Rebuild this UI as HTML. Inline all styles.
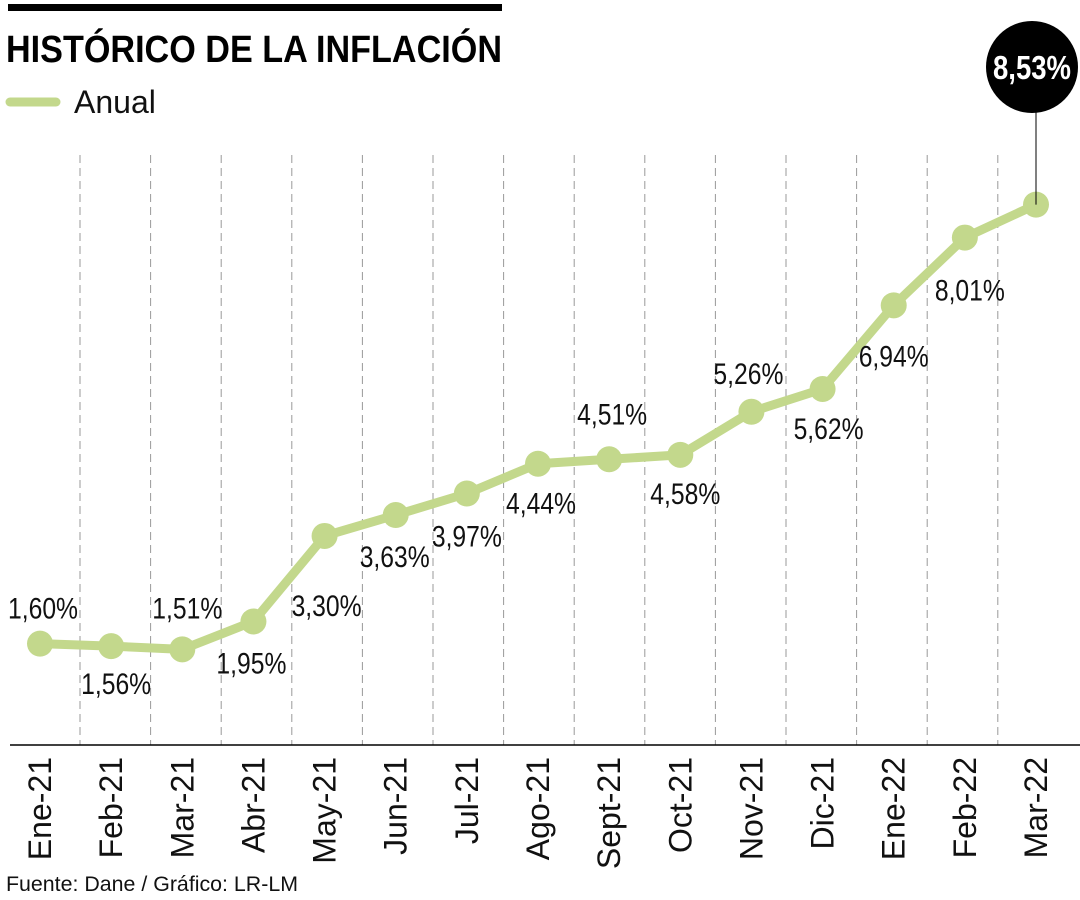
<!DOCTYPE html>
<html><head><meta charset="utf-8"><style>
html,body{margin:0;padding:0;background:#fff;}
svg{display:block;}
text{font-family:"Liberation Sans Narrow","Liberation Sans",sans-serif;}
</style></head><body>
<svg id="chart" width="1080" height="900" viewBox="0 0 1080 900" xmlns="http://www.w3.org/2000/svg">
<rect x="8" y="4" width="494" height="7" fill="#000"/>
<text x="6" y="62" font-size="38" font-weight="bold" textLength="496" lengthAdjust="spacingAndGlyphs">HISTÓRICO DE LA INFLACIÓN</text>
<line x1="10" y1="102" x2="56" y2="102" stroke="#c3d88c" stroke-width="9" stroke-linecap="round"/>
<text x="74" y="113" font-size="32" font-family="Liberation Sans" font-weight="300" fill="#111">Anual</text>
<g id="grid"></g>
<line x1="10" y1="745" x2="1080" y2="745" stroke="#000" stroke-width="1.5"/>
<g id="series"></g>
<g id="labels"></g>
<g id="xticks"></g>
<line id="callout" x1="1036" y1="112" x2="1036" y2="200" stroke="#000" stroke-width="1"/>
<circle cx="1032" cy="67" r="46" fill="#000"/>
<text id="calloutText" x="1032" y="79" font-size="33" font-weight="bold" fill="#fff" text-anchor="middle" textLength="78" lengthAdjust="spacingAndGlyphs">8,53%</text>
<text x="6" y="891" font-size="21" font-family="Liberation Sans" fill="#111" textLength="292" lengthAdjust="spacingAndGlyphs">Fuente: Dane / Gráfico: LR-LM</text>
</svg>
<script>
const categories = ["Ene-21","Feb-21","Mar-21","Abr-21","May-21","Jun-21","Jul-21","Ago-21","Sept-21","Oct-21","Nov-21","Dic-21","Ene-22","Feb-22","Mar-22"];
const values = [1.60,1.56,1.51,1.95,3.30,3.63,3.97,4.44,4.51,4.58,5.26,5.62,6.94,8.01,8.53];
const valueLabels = ["1,60%","1,56%","1,51%","1,95%","3,30%","3,63%","3,97%","4,44%","4,51%","4,58%","5,26%","5,62%","6,94%","8,01%","8,53%"];
// label offsets (styling, not data)
const labelDx = [3,5,5,-2,2,-1,0,3,3,5,-3,6,0,5,0];
const labelDy = [-36,37,-42,41,69,41,42,39,-46,38,-39,39,50,52,0];

const NS = "http://www.w3.org/2000/svg";
const x = i => 40 + i * (1036 - 40) / (categories.length - 1);
const y = v => 745 - v * 63.35;

const grid = document.getElementById('grid');
for (let i = 0; i < categories.length - 1; i++) {
  const gx = 80 + i * 70.6;
  const l = document.createElementNS(NS, 'line');
  
  
  l.setAttribute('x1', gx); l.setAttribute('x2', gx);
  l.setAttribute('y1', 155); l.setAttribute('y2', 745);
  l.setAttribute('stroke', '#999'); l.setAttribute('stroke-width', '1');
  l.setAttribute('stroke-dasharray', '8,5');
  grid.appendChild(l);
}

const series = document.getElementById('series');
const path = document.createElementNS(NS, 'polyline');


path.setAttribute('points', values.map((v, i) => x(i) + ',' + y(v)).join(' '));
path.setAttribute('fill', 'none'); path.setAttribute('stroke', '#c3d88c');
path.setAttribute('stroke-width', '9'); path.setAttribute('stroke-linejoin', 'round');
series.appendChild(path);
values.forEach((v, i) => {
  const c = document.createElementNS(NS, 'circle');
  
  
  c.setAttribute('cx', x(i)); c.setAttribute('cy', y(v)); c.setAttribute('r', 13);
  c.setAttribute('fill', '#c3d88c');
  series.appendChild(c);
});

const labels = document.getElementById('labels');
values.forEach((v, i) => {
  if (i === values.length - 1) return;
  const t = document.createElementNS(NS, 'text');
  
  
  t.setAttribute('x', x(i) + labelDx[i]);
  t.setAttribute('y', y(v) + labelDy[i] + 11);
  t.setAttribute('font-size', '30');
  t.setAttribute('text-anchor', 'middle');
  t.setAttribute('textLength', '70');
  t.setAttribute('lengthAdjust', 'spacingAndGlyphs');
  t.setAttribute('fill', '#111');
  t.textContent = valueLabels[i];
  labels.appendChild(t);
});

const last = values.length - 1;
document.getElementById('callout').setAttribute('y2', y(values[last]));
document.getElementById('calloutText').textContent = valueLabels[last];

const xt = document.getElementById('xticks');
categories.forEach((c, i) => {
  const t = document.createElementNS(NS, 'text');
  
  
  t.setAttribute('transform', 'translate(' + (x(i) + 11) + ',757) rotate(-90)');
  t.setAttribute('text-anchor', 'end');
  t.setAttribute('font-size', '32');
  t.setAttribute('font-family', 'Liberation Sans');
  t.setAttribute('fill', '#111');
  t.textContent = c;
  xt.appendChild(t);
});
</script>
</body></html>
